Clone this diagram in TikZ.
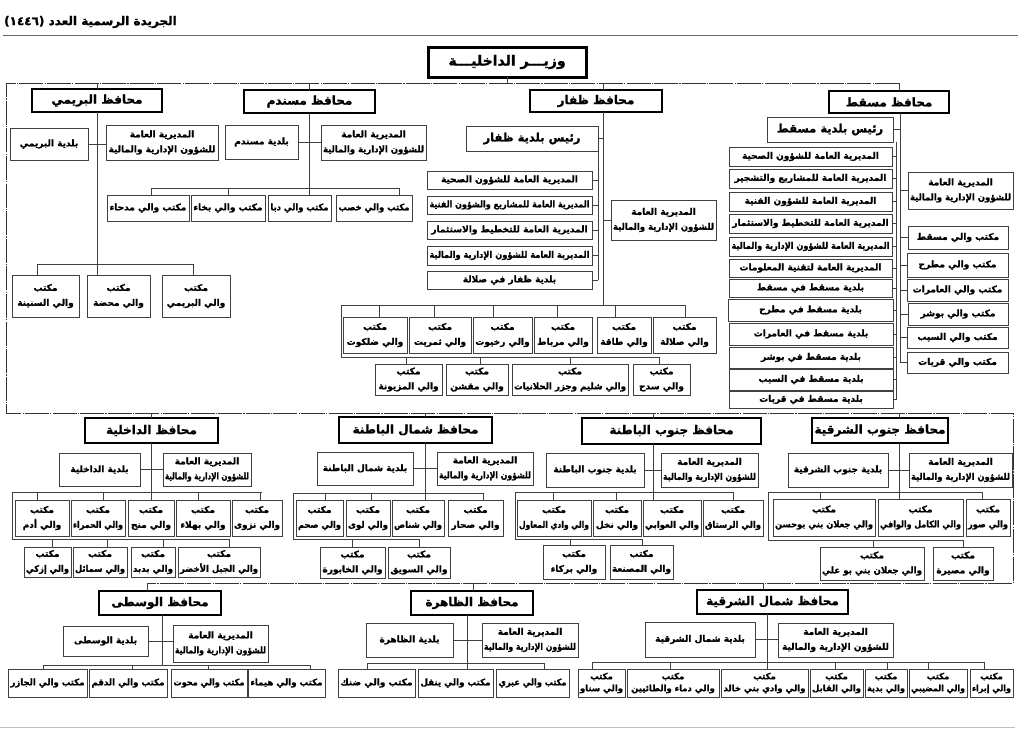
\documentclass[tikz,border=0pt]{standalone}
\usepackage{fontspec}
\usepackage{graphicx}
\newfontfamily\arfont[Script=Arabic,BoldFeatures={FakeBold=1.2}]{DejaVu Sans}
\TeXXeTstate=1
\newcommand\ar[1]{\beginR #1\endR}
\newsavebox\fitbox
\newcommand\fitw[2]{\sbox\fitbox{#2}\ifdim\wd\fitbox>#1\relax\scalebox{\fpeval{(#1)/(\the\wd\fitbox)}}[1]{\usebox\fitbox}\else\usebox\fitbox\fi}
\newcommand\bx[7][bx]{\pgfmathsetmacro\bxw{#5-#3}\pgfmathsetmacro\bxh{#6-#4}\node[#1,minimum width=\bxw pt,minimum height=\bxh pt] (#2) at ({(#3+#5)/2},{(#4+#6)/2}) {#7};}
\newcommand\bs[7][bx]{\pgfmathsetmacro\fitwd{#5-#3-5}\bx[#1]{#2}{#3}{#4}{#5}{#6}{\fitw{\fitwd pt}{#7}}}
\newcommand\ofc[7][bx]{\pgfmathsetmacro\fitwd{#5-#3-4}\bx[#1]{#2}{#3}{#4}{#5}{#6}{\ar{مكتب}\\\fitw{\fitwd pt}{#7}}}
\newcommand\ofl[6]{\bs{#1}{#2}{#3}{#4}{#5}{#6}}
\newcommand\dg[5]{\pgfmathsetmacro\fitwd{#4-#2-4}\bx{#1}{#2}{#3}{#4}{#5}{\ar{المديرية العامة}\\\fitw{\fitwd pt}{\ar{للشؤون الإدارية والمالية}}}}
\newcommand\dr[3]{\draw[ln] (#1.north -| #2,0) -- (#2,#3);}
\newcommand\tkl[2]{\draw[ln] (#1.east) -- (#1.east -| #2,0);}
\newcommand\tkr[2]{\draw[ln] (#1.west -| #2,0) -- (#1.west);}
\begin{document}
\begin{tikzpicture}[x=1pt,y=-1pt,
  ln/.style={draw=black!75,line width=0.8pt},
  fr/.style={draw=black!80,line width=0.9pt,dash pattern=on 24pt off 1.2pt on 1.2pt off 1.2pt},
  bx/.style={draw=black!75,line width=0.9pt,fill=white,inner sep=1pt,outer sep=0pt,align=center,font=\arfont\bfseries\fontsize{9}{15}\selectfont},
  bxs/.style={bx,font=\arfont\bfseries\fontsize{8.5}{12}\selectfont},
  gov/.style={bx,draw=black,line width=2.3pt,font=\arfont\bfseries\fontsize{12}{14}\selectfont},
  mn/.style={bx,draw=black,line width=3pt,font=\arfont\bfseries\fontsize{14}{16}\selectfont},
  rb/.style={bx,font=\arfont\bfseries\fontsize{11.5}{13}\selectfont}]
\fill[white] (0,0) rectangle (1024,729);
\useasboundingbox (0,0) rectangle (1024,729);
% header
\node[anchor=east,inner sep=0pt,font=\arfont\bfseries\fontsize{12}{14}\selectfont] (hdr) at (177,22) {\ar{الجريدة الرسمية العدد \beginL(١٤٤٦)\endL}};
\draw[black!60,line width=0.8pt] (3,35) -- (1018,35);
\draw[black!25,line width=0.8pt] (0,727) -- (1015,727);
% minister and frame
\bx[mn]{mn}{428}{47}{586}{77}{\ar{وزيـــر الداخليـــة}}
\coordinate (f1) at (6,83);
\coordinate (f2) at (899,83);
\coordinate (f3) at (6,413);
\coordinate (f4) at (1013,413);
\coordinate (f5) at (1013,583);
\coordinate (f6) at (147,583);
\draw[fr] (f2) -- (f1) -- (f3) -- (f4) -- (f5) -- (f6);
\draw[ln] (mn.south) -- (mn.south |- f1);
% ---------- Buraimi
\bx[gov]{gB}{32}{89}{162}{112}{\ar{محافظ البريمي}}
\bs{bB}{10}{128}{88}{160}{\ar{بلدية البريمي}}
\dg{dB}{106}{125}{218}{160}
\ofc{oB1}{12}{275}{79}{317}{\ar{والي السنينة}}
\ofc{oB2}{87}{275}{150}{317}{\ar{والي محضة}}
\ofc{oB3}{162}{275}{230}{317}{\ar{والي البريمي}}
\draw[ln] (97,83) -- (gB.north -| 97,0);
\draw[ln] (gB.south -| 97,0) -- (oB2.north -| 97,0);
\draw[ln] (bB.east) -- (bB.east -| dB.west);
\draw[ln] (37,264) -- (193,264);
\dr{oB1}{37}{264}\dr{oB3}{193}{264}
% ---------- Musandam
\bx[gov]{gM}{244}{90}{375}{113}{\ar{محافظ مسندم}}
\bs{bM}{225}{125}{298}{159}{\ar{بلدية مسندم}}
\dg{dM}{321}{125}{426}{160}
\ofl{oM1}{107}{195}{189}{221}{\ar{مكتب والي مدحاء}}
\ofl{oM2}{191}{195}{265}{221}{\ar{مكتب والي بخاء}}
\ofl{oM3}{268}{195}{331}{221}{\ar{مكتب والي دبا}}
\ofl{oM4}{336}{195}{412}{221}{\ar{مكتب والي خصب}}
\draw[ln] (309,83) -- (gM.north -| 309,0);
\draw[ln] (gM.south -| 309,0) -- (oM3.north -| 309,0);
\draw[ln] (bM.east) -- (bM.east -| dM.west);
\draw[ln] (151,188) -- (399,188);
\dr{oM1}{151}{188}\dr{oM2}{228}{188}\dr{oM4}{399}{188}
% ---------- Dhofar
\bx[gov]{gZ}{530}{90}{662}{112}{\ar{محافظ ظفار}}
\bx[rb]{rZ}{466}{126}{598}{151}{\ar{رئيس بلدية ظفار}}
\bs{sZ1}{427}{171}{592}{189}{\ar{المديرية العامة للشؤون الصحية}}
\bs{sZ2}{427}{196}{592}{214}{\ar{المديرية العامة للمشاريع والشؤون الفنية}}
\bs{sZ3}{427}{221}{592}{239}{\ar{المديرية العامة للتخطيط والاستثمار}}
\bs{sZ4}{427}{246}{592}{265}{\ar{المديرية العامة للشؤون الإدارية والمالية}}
\bs{sZ5}{427}{271}{592}{289}{\ar{بلدية ظفار في صلالة}}
\dg{dZ}{611}{200}{716}{240}
\draw[ln] (603,83) -- (gZ.north -| 603,0);
\draw[ln] (gZ.south -| 603,0) -- (603,305);
\draw[ln] (rZ.east) -- (rZ.east -| 603,0);
\draw[ln] (rZ.south east) -- (sZ5.east -| 598,0);
\tkl{sZ1}{598}\tkl{sZ2}{598}\tkl{sZ3}{598}\tkl{sZ4}{598}\tkl{sZ5}{598}
\tkr{dZ}{603}
\ofc{oZ1}{343}{317}{407}{353}{\ar{والي ضلكوت}}
\ofc{oZ2}{409}{317}{471}{353}{\ar{والي ثمريت}}
\ofc{oZ3}{473}{317}{532}{353}{\ar{والي رخيوت}}
\ofc{oZ4}{534}{317}{592}{353}{\ar{والي مرباط}}
\ofc{oZ5}{597}{317}{651}{353}{\ar{والي طاقة}}
\ofc{oZ6}{653}{317}{716}{353}{\ar{والي صلالة}}
\draw[ln] (341,357) -- (341,305) -- (685,305);
\dr{oZ1}{379}{305}\dr{oZ2}{434}{305}\dr{oZ3}{493}{305}\dr{oZ4}{557}{305}\dr{oZ5}{615}{305}\dr{oZ6}{685}{305}
\ofc{oZ7}{375}{364}{442}{395}{\ar{والي المزيونة}}
\ofc{oZ8}{446}{364}{508}{395}{\ar{والي مقشن}}
\ofc{oZ9}{512}{364}{628}{395}{\ar{والي شليم وجزر الحلانيات}}
\ofc{oZ10}{633}{364}{690}{395}{\ar{والي سدح}}
\draw[ln] (341,357) -- (659,357);
\dr{oZ7}{406}{357}\dr{oZ8}{480}{357}\dr{oZ9}{570}{357}\dr{oZ10}{659}{357}
% ---------- Muscat
\bx[gov]{gQ}{829}{91}{949}{113}{\ar{محافظ مسقط}}
\bx[rb]{rQ}{767}{117}{893}{142}{\ar{رئيس بلدية مسقط}}
\bs{sQ1}{729}{147}{892}{166}{\ar{المديرية العامة للشؤون الصحية}}
\bs{sQ2}{729}{169}{892}{188}{\ar{المديرية العامة للمشاريع والتشجير}}
\bs{sQ3}{729}{192}{892}{211}{\ar{المديرية العامة للشؤون الفنية}}
\bs{sQ4}{729}{214}{892}{233}{\ar{المديرية العامة للتخطيط والاستثمار}}
\bs{sQ5}{729}{237}{892}{256}{\ar{المديرية العامة للشؤون الإدارية والمالية}}
\bs{sQ6}{729}{259}{892}{277}{\ar{المديرية العامة لتقنية المعلومات}}
\bs{sQ7}{729}{279}{892}{297}{\ar{بلدية مسقط في مسقط}}
\bs{sQ8}{728}{299}{893}{321}{\ar{بلدية مسقط في مطرح}}
\bs{sQ9}{729}{323}{893}{345}{\ar{بلدية مسقط في العامرات}}
\bs{sQ10}{729}{347}{893}{368}{\ar{بلدية مسقط في بوشر}}
\bs{sQ11}{729}{369}{893}{390}{\ar{بلدية مسقط في السيب}}
\bs{sQ12}{729}{391}{893}{408}{\ar{بلدية مسقط في قريات}}
\dg{dQ}{908}{172}{1013}{209}
\ofl{oQ1}{908}{226}{1008}{249}{\ar{مكتب والي مسقط}}
\ofl{oQ2}{907}{253}{1008}{277}{\ar{مكتب والي مطرح}}
\ofl{oQ3}{907}{279}{1008}{301}{\ar{مكتب والي العامرات}}
\ofl{oQ4}{908}{303}{1008}{325}{\ar{مكتب والي بوشر}}
\ofl{oQ5}{907}{327}{1008}{348}{\ar{مكتب والي السيب}}
\ofl{oQ6}{907}{352}{1008}{373}{\ar{مكتب والي قريات}}
\draw[ln] (f2) -- (gQ.north -| f2);
\draw[ln] (gQ.south -| 900,0) -- (oQ6.west -| 900,0);
\draw[ln] (rQ.east) -- (rQ.east -| 900,0);
\draw[ln] (rQ.south east -| 896,0) -- (sQ12.east -| 896,0);
\tkl{sQ1}{896}\tkl{sQ2}{896}\tkl{sQ3}{896}\tkl{sQ4}{896}\tkl{sQ5}{896}\tkl{sQ6}{896}
\tkl{sQ7}{896}\tkl{sQ8}{896}\tkl{sQ9}{896}\tkl{sQ10}{896}\tkl{sQ11}{896}\tkl{sQ12}{896}
\tkr{dQ}{900}\tkr{oQ1}{900}\tkr{oQ2}{900}\tkr{oQ3}{900}\tkr{oQ4}{900}\tkr{oQ5}{900}\tkr{oQ6}{900}
% ---------- Dakhiliyah
\bx[gov]{gD}{85}{418}{218}{443}{\ar{محافظ الداخلية}}
\bs{bD}{59}{453}{140}{486}{\ar{بلدية الداخلية}}
\dg{dD}{163}{453}{251}{486}
\ofc{oD1}{15}{500}{69}{536}{\ar{والي أدم}}
\ofc{oD2}{71}{500}{125}{536}{\ar{والي الحمراء}}
\ofc{oD3}{128}{500}{174}{536}{\ar{والي منح}}
\ofc{oD4}{176}{500}{230}{536}{\ar{والي بهلاء}}
\ofc{oD5}{232}{500}{282}{536}{\ar{والي نزوى}}
\ofc{oD6}{24}{547}{71}{577}{\ar{والي إزكي}}
\ofc{oD7}{73}{547}{127}{577}{\ar{والي سمائل}}
\ofc{oD8}{131}{547}{175}{577}{\ar{والي بدبد}}
\ofc{oD9}{178}{547}{260}{577}{\ar{والي الجبل الأخضر}}
\draw[ln] (151,413) -- (gD.north -| 151,0);
\draw[ln] (gD.south -| 151,0) -- (oD3.north -| 151,0);
\draw[ln] (bD.east) -- (bD.east -| dD.west);
\draw[ln] (12,539) -- (12,492) -- (262,492);
\dr{oD1}{37}{492}\dr{oD2}{103}{492}\dr{oD4}{198}{492}\dr{oD5}{260}{492}
\draw[ln] (12,539) -- (229,539);
\dr{oD6}{52}{539}\dr{oD7}{107}{539}\dr{oD8}{163}{539}\dr{oD9}{229}{539}
% ---------- North Batinah
\bx[gov]{gN}{339}{417}{492}{443}{\ar{محافظ شمال الباطنة}}
\bs{bN}{317}{452}{413}{485}{\ar{بلدية شمال الباطنة}}
\dg{dN}{437}{452}{533}{485}
\ofc{oN1}{296}{500}{343}{536}{\ar{والي صحم}}
\ofc{oN2}{346}{500}{390}{536}{\ar{والي لوى}}
\ofc{oN3}{392}{500}{444}{536}{\ar{والي شناص}}
\ofc{oN4}{448}{500}{503}{536}{\ar{والي صحار}}
\ofc{oN5}{320}{547}{385}{578}{\ar{والي الخابورة}}
\ofc{oN6}{388}{547}{450}{578}{\ar{والي السويق}}
\draw[ln] (425,413) -- (gN.north -| 425,0);
\draw[ln] (gN.south -| 425,0) -- (oN3.north -| 425,0);
\draw[ln] (bN.east) -- (bN.east -| dN.west);
\draw[ln] (293,539) -- (293,493) -- (483,493);
\dr{oN1}{325}{493}\dr{oN2}{371}{493}\dr{oN4}{483}{493}
\draw[ln] (293,539) -- (419,539);
\dr{oN5}{352}{539}\dr{oN6}{419}{539}
% ---------- South Batinah
\bx[gov]{gS}{582}{418}{761}{444}{\ar{محافظ جنوب الباطنة}}
\bs{bS}{546}{453}{644}{487}{\ar{بلدية جنوب الباطنة}}
\dg{dS}{661}{453}{758}{487}
\ofc{oS1}{517}{500}{591}{536}{\ar{والي وادي المعاول}}
\ofc{oS2}{593}{500}{641}{536}{\ar{والي نخل}}
\ofc{oS3}{643}{500}{701}{536}{\ar{والي العوابي}}
\ofc{oS4}{703}{500}{763}{536}{\ar{والي الرستاق}}
\ofc{oS5}{543}{545}{605}{579}{\ar{والي بركاء}}
\ofc{oS6}{610}{545}{673}{579}{\ar{والي المصنعة}}
\draw[ln] (653,413) -- (gS.north -| 653,0);
\draw[ln] (gS.south -| 653,0) -- (oS3.north -| 653,0);
\draw[ln] (bS.east) -- (bS.east -| dS.west);
\draw[ln] (515,539) -- (515,492) -- (733,492);
\dr{oS1}{553}{492}\dr{oS2}{616}{492}\dr{oS4}{733}{492}
\draw[ln] (515,539) -- (642,539);
\dr{oS5}{570}{539}\dr{oS6}{642}{539}
% ---------- South Sharqiyah
\bx[gov]{gT}{812}{418}{948}{443}{\ar{محافظ جنوب الشرقية}}
\bs{bT}{788}{453}{888}{487}{\ar{بلدية جنوب الشرقية}}
\dg{dT}{909}{453}{1012}{487}
\ofc{oT1}{773}{499}{875}{536}{\ar{والي جعلان بني بوحسن}}
\ofc{oT2}{878}{499}{963}{536}{\ar{والي الكامل والوافي}}
\ofc{oT3}{966}{499}{1010}{536}{\ar{والي صور}}
\ofc{oT4}{820}{547}{924}{580}{\ar{والي جعلان بني بو علي}}
\ofc{oT5}{933}{547}{993}{580}{\ar{والي مصيرة}}
\draw[ln] (899,413) -- (gT.north -| 899,0);
\draw[ln] (gT.south -| 899,0) -- (oT2.north -| 899,0);
\draw[ln] (bT.east) -- (bT.east -| dT.west);
\draw[ln] (768,540) -- (768,492) -- (982,492);
\dr{oT1}{820}{492}\dr{oT3}{982}{492}
\draw[ln] (768,540) -- (963,540);
\dr{oT4}{873}{540}\dr{oT5}{963}{540}
% ---------- Wusta
\bx[gov]{gW}{99}{591}{221}{615}{\ar{محافظ الوسطى}}
\bs{bW}{63}{626}{148}{656}{\ar{بلدية الوسطى}}
\dg{dW}{173}{625}{268}{662}
\ofl{oW1}{8}{669}{87}{697}{\ar{مكتب والي الجازر}}
\ofl{oW2}{89}{669}{167}{697}{\ar{مكتب والي الدقم}}
\ofl{oW3}{171}{669}{247}{697}{\ar{مكتب والي محوت}}
\ofl{oW4}{248}{669}{325}{697}{\ar{مكتب والي هيماء}}
\draw[ln] (f6) -- (gW.north -| f6);
\draw[ln] (gW.south -| 162,0) -- (162,665);
\draw[ln] (bW.east) -- (bW.east -| dW.west);
\draw[ln] (43,665) -- (310,665);
\dr{oW1}{43}{665}\dr{oW2}{132}{665}\dr{oW3}{208}{665}\dr{oW4}{310}{665}
% ---------- Dhahirah
\bx[gov]{gH}{411}{591}{533}{615}{\ar{محافظ الظاهرة}}
\bs{bH}{366}{623}{453}{657}{\ar{بلدية الظاهرة}}
\dg{dH}{482}{623}{578}{657}
\ofl{oH1}{338}{669}{415}{697}{\ar{مكتب والي ضنك}}
\ofl{oH2}{418}{669}{493}{697}{\ar{مكتب والي ينقل}}
\ofl{oH3}{496}{669}{569}{697}{\ar{مكتب والي عبري}}
\draw[ln] (473,583) -- (gH.north -| 473,0);
\draw[ln] (gH.south -| 467,0) -- (oH2.north -| 467,0);
\draw[ln] (bH.east) -- (bH.east -| dH.west);
\draw[ln] (367,663) -- (544,663);
\dr{oH1}{367}{663}\dr{oH3}{544}{663}
% ---------- North Sharqiyah
\bx[gov]{gE}{697}{590}{848}{614}{\ar{محافظ شمال الشرقية}}
\bs{bE}{645}{622}{755}{657}{\ar{بلدية شمال الشرقية}}
\dg{dE}{778}{623}{893}{657}
\ofc[bxs]{oE1}{578}{669}{625}{697}{\ar{والي سناو}}
\ofc[bxs]{oE2}{627}{669}{719}{697}{\ar{والي دماء والطائيين}}
\ofc[bxs]{oE3}{721}{669}{808}{697}{\ar{والي وادي بني خالد}}
\ofc[bxs]{oE4}{810}{669}{863}{697}{\ar{والي القابل}}
\ofc[bxs]{oE5}{865}{669}{907}{697}{\ar{والي بدية}}
\ofc[bxs]{oE6}{909}{669}{967}{697}{\ar{والي المضيبي}}
\ofc[bxs]{oE7}{970}{669}{1013}{697}{\ar{والي إبراء}}
\draw[ln] (763,583) -- (gE.north -| 763,0);
\draw[ln] (gE.south -| 767,0) -- (oE3.north -| 767,0);
\draw[ln] (bE.east) -- (bE.east -| dE.west);
\draw[ln] (592,662) -- (984,662);
\dr{oE1}{592}{662}\dr{oE2}{670}{662}\dr{oE4}{835}{662}\dr{oE5}{887}{662}\dr{oE6}{928}{662}\dr{oE7}{984}{662}
\end{tikzpicture}
\end{document}
